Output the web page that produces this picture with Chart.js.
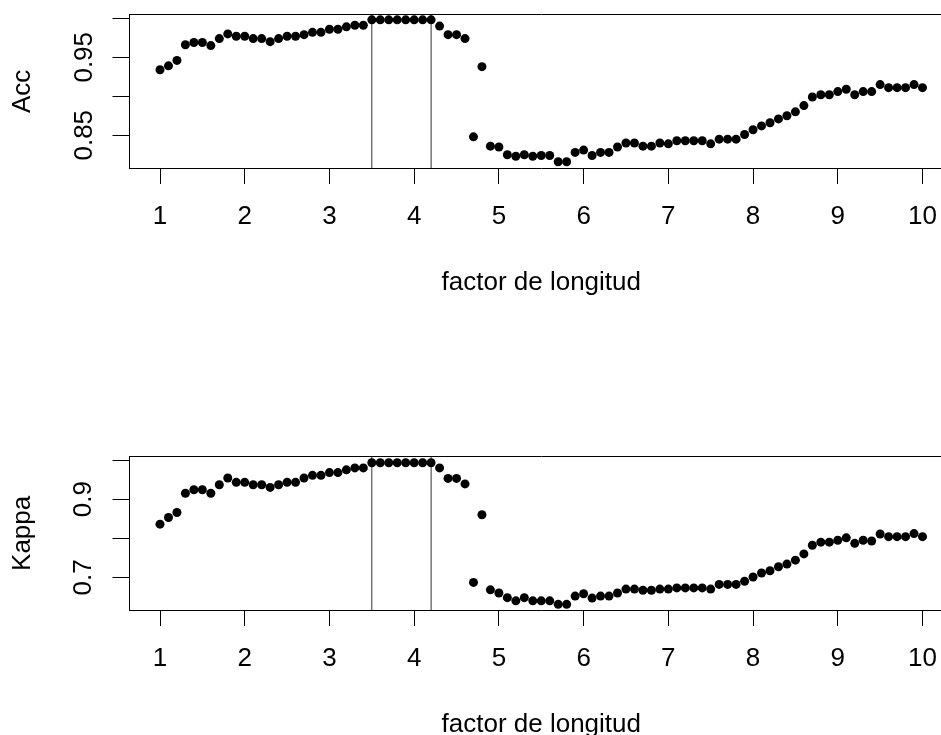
<!DOCTYPE html>
<html><head><meta charset="utf-8">
<script src="https://cdn.jsdelivr.net/npm/chart.js@4"></script>
<style>
html,body{margin:0;padding:0;background:#fff;width:941px;height:735px;overflow:hidden;position:relative;}
canvas{position:absolute;left:0;}
#c1{top:0px}
#c2{top:442px}
</style></head><body>
<canvas id="c1" width="953" height="300"></canvas>
<canvas id="c2" width="953" height="300"></canvas>
<script>
// factor de longitud (x)
const factorValues = [
  1.0,1.1,1.2,1.3,1.4,1.5,1.6,1.7,1.8,1.9,
  2.0,2.1,2.2,2.3,2.4,2.5,2.6,2.7,2.8,2.9,
  3.0,3.1,3.2,3.3,3.4,3.5,3.6,3.7,3.8,3.9,
  4.0,4.1,4.2,4.3,4.4,4.5,4.6,4.7,4.8,4.9,
  5.0,5.1,5.2,5.3,5.4,5.5,5.6,5.7,5.8,5.9,
  6.0,6.1,6.2,6.3,6.4,6.5,6.6,6.7,6.8,6.9,
  7.0,7.1,7.2,7.3,7.4,7.5,7.6,7.7,7.8,7.9,
  8.0,8.1,8.2,8.3,8.4,8.5,8.6,8.7,8.8,8.9,
  9.0,9.1,9.2,9.3,9.4,9.5,9.6,9.7,9.8,9.9,
  10.0
];
// Acc series
const accValues = [
  0.934,0.939,0.946,0.966,0.969,0.969,0.965,0.974,0.980,0.977,
  0.977,0.974,0.974,0.970,0.974,0.977,0.977,0.979,0.982,0.982,
  0.986,0.986,0.989,0.991,0.991,0.998,0.998,0.998,0.998,0.998,
  0.998,0.998,0.998,0.990,0.979,0.979,0.974,0.848,0.938,0.836,
  0.835,0.825,0.823,0.825,0.823,0.824,0.824,0.816,0.816,0.828,
  0.831,0.824,0.828,0.828,0.835,0.840,0.840,0.836,0.836,0.840,
  0.839,0.843,0.843,0.843,0.843,0.839,0.845,0.845,0.845,0.851,
  0.857,0.862,0.866,0.871,0.875,0.880,0.888,0.899,0.902,0.902,
  0.906,0.909,0.902,0.906,0.906,0.915,0.911,0.911,0.911,0.915,
  0.911
];
// Kappa series
const kappaValues = [
  0.836,0.853,0.866,0.915,0.924,0.924,0.915,0.937,0.954,0.943,
  0.943,0.937,0.937,0.930,0.937,0.943,0.943,0.954,0.961,0.961,
  0.968,0.968,0.975,0.980,0.980,0.993,0.993,0.993,0.993,0.993,
  0.993,0.993,0.993,0.980,0.953,0.953,0.939,0.687,0.860,0.668,
  0.660,0.648,0.640,0.648,0.640,0.640,0.640,0.631,0.631,0.652,
  0.658,0.647,0.652,0.652,0.660,0.670,0.670,0.667,0.667,0.670,
  0.670,0.673,0.673,0.673,0.673,0.670,0.682,0.682,0.682,0.690,
  0.701,0.711,0.717,0.727,0.734,0.744,0.760,0.782,0.790,0.790,
  0.795,0.801,0.787,0.795,0.793,0.811,0.804,0.804,0.804,0.812,
  0.804
];
const xTickValues = [1,2,3,4,5,6,7,8,9,10];
const accTickValues = [0.85,0.90,0.95,1.00];
const accTickLabels = ['0.85','','0.95',''];
const kappaTickValues = [0.7,0.8,0.9,1.0];
const kappaTickLabels = ['0.7','','0.9',''];
const markerLines = [3.5, 4.2];
const xTitle = 'factor de longitud';

Chart.defaults.font.family = '"Liberation Sans", Arial, Helvetica, sans-serif';
Chart.defaults.font.size = 26;
Chart.defaults.color = '#000';

function makePlot(id, yValues, tickValues, tickLabels, yMin, yMax, yTitle, labelPad) {
  const pts = factorValues.map((x, i) => ({x: x, y: yValues[i]}));
  const datasets = [{
    type: 'scatter',
    data: pts,
    pointRadius: 4.5,
    pointBackgroundColor: '#000',
    pointBorderWidth: 0,
    borderWidth: 0,
    showLine: false
  }];
  markerLines.forEach(m => {
    datasets.push({
      type: 'line',
      data: [{x: m, y: yMin}, {x: m, y: yMax}],
      borderColor: '#333',
      borderWidth: 1,
      pointRadius: 0,
      fill: false
    });
  });
  return new Chart(document.getElementById(id), {
    type: 'scatter',
    data: {datasets: datasets},
    options: {
      responsive: false,
      animation: false,
      devicePixelRatio: 1,
      layout: {padding: 0, autoPadding: false},
      plugins: {legend: {display: false}, tooltip: {enabled: false}},
      scales: {
        x: {
          type: 'linear', position: 'bottom', min: 0.64, max: 10.36,
          afterBuildTicks: s => { s.ticks = xTickValues.map(v => ({value: v})); },
          afterFit: s => { s.height = 132; s.paddingLeft = 0; s.paddingRight = 0; },
          ticks: {padding: 17, autoSkip: false, maxRotation: 0, callback: v => String(v)},
          grid: {drawOnChartArea: false, drawTicks: true, tickLength: 16, color: '#000', lineWidth: 1},
          border: {display: true, color: '#000', width: 1},
          title: {display: true, text: xTitle, padding: {top: 0, bottom: 1.5}}
        },
        x2: {
          type: 'linear', position: 'top', min: 0, max: 1,
          afterFit: s => { s.height = 14.7; s.paddingLeft = 0; s.paddingRight = 0; },
          ticks: {display: false},
          grid: {drawOnChartArea: false, drawTicks: false},
          border: {display: true, color: '#000', width: 1}
        },
        y: {
          type: 'linear', position: 'left', min: yMin, max: yMax,
          afterBuildTicks: s => { s.ticks = tickValues.map(v => ({value: v})); },
          afterFit: s => { s.width = 129.5; s.paddingTop = 0; s.paddingBottom = 0; },
          ticks: {minRotation: 90, maxRotation: 90, crossAlign: 'center', padding: labelPad, autoSkip: false,
                  callback: (v, i) => tickLabels[i]},
          grid: {drawOnChartArea: false, drawTicks: true, tickLength: 17, color: '#000', lineWidth: 1},
          border: {display: true, color: '#000', width: 1},
          title: {display: true, text: yTitle, padding: {top: 7, bottom: 0}}
        }
      }
    }
  });
}

makePlot('c1', accValues, accTickValues, accTickLabels, 0.808, 1.0046, 'Acc', 2.5);
makePlot('c2', kappaValues, kappaTickValues, kappaTickLabels, 0.6165, 1.0086, 'Kappa', 10.6);
</script>
</body></html>
